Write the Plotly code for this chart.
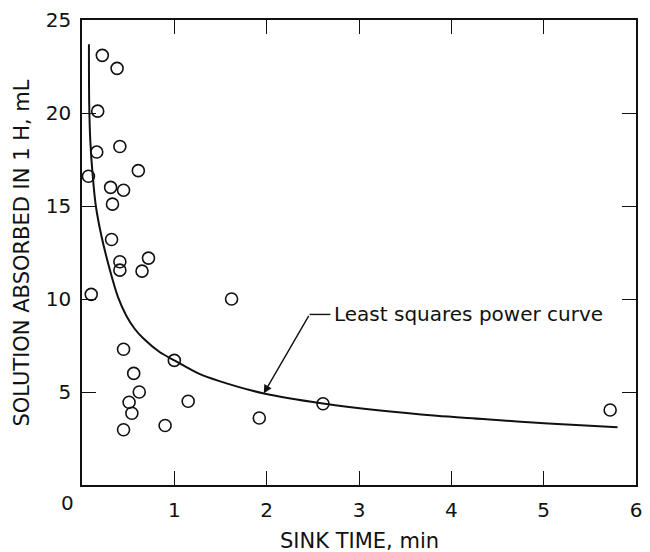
import plotly.graph_objects as go

# Observed data points (sink time, min ; solution absorbed in 1 h, mL)
sink_time = [0.22, 0.38, 0.17, 0.41, 0.16, 0.61, 0.07, 0.31, 0.45, 0.33,
             0.32, 0.41, 0.72, 0.41, 0.65, 0.10, 1.62, 0.45, 1.00, 0.56,
             0.62, 0.51, 0.54, 1.15, 0.45, 0.90, 1.92, 2.61, 5.72]
absorbed = [23.1, 22.4, 20.1, 18.2, 17.9, 16.9, 16.6, 16.0, 15.85, 15.1,
            13.2, 12.0, 12.2, 11.55, 11.5, 10.25, 10.0, 7.3, 6.7, 6.0,
            5.0, 4.45, 3.86, 4.5, 2.97, 3.2, 3.6, 4.37, 4.03]

# Least squares power curve
curve_x = [0.075, 0.078, 0.09, 0.12, 0.15, 0.21, 0.30, 0.39, 0.48, 0.57,
           0.66, 0.84, 1.0, 1.26, 1.48, 1.97, 2.61, 3.23, 3.84, 4.34, 5.05, 5.80]
curve_y = [23.7, 20.5, 18.5, 16.4, 15.0, 13.4, 11.6, 10.1, 9.1, 8.4,
           7.9, 7.15, 6.7, 6.0, 5.6, 4.92, 4.38, 4.0, 3.72, 3.55, 3.3, 3.1]

x_ticks = [1, 2, 3, 4, 5, 6]
y_ticks = [5, 10, 15, 20, 25]

FONT = "DejaVu Sans"
INK = "#111111"

fig = go.Figure()
fig.add_trace(go.Scatter(x=curve_x, y=curve_y, mode="lines",
                         line=dict(color=INK, width=2, shape="spline", smoothing=0.8),
                         hoverinfo="skip", showlegend=False))
fig.add_trace(go.Scatter(x=sink_time, y=absorbed, mode="markers",
                         marker=dict(symbol="circle-open", size=12,
                                     color=INK, line=dict(width=1.6, color=INK)),
                         showlegend=False))

axis_common = dict(showgrid=False, zeroline=False, showline=True, linecolor=INK,
                   linewidth=1.5, mirror="ticks", ticks="inside", ticklen=14,
                   tickwidth=1.2, tickcolor=INK,
                   tickfont=dict(family=FONT, size=20, color=INK))

fig.update_xaxes(range=[0, 6], tickvals=x_ticks, ticktext=[str(v) for v in x_ticks],
                 ticklabelstandoff=6, **axis_common)
fig.update_yaxes(range=[0, 25], tickvals=y_ticks, ticktext=[str(v) for v in y_ticks],
                 ticklabelstandoff=5, **axis_common)

# Arrow annotation to the curve
fig.add_annotation(x=1.968, y=4.92, ax=2.465, ay=9.17, xref="x", yref="y",
                   axref="x", ayref="y", text="", showarrow=True,
                   arrowhead=2, arrowsize=1.2, arrowwidth=1.4, arrowcolor=INK)
fig.add_shape(type="line", x0=2.465, y0=9.17, x1=2.69, y1=9.17,
              xref="x", yref="y", line=dict(color=INK, width=1.4))
fig.add_annotation(x=2.71, y=9.17, xref="x", yref="y", text="Least squares power curve",
                   showarrow=False, xanchor="left", yanchor="middle",
                   font=dict(family=FONT, size=20, color=INK))

# Axis titles and origin label
fig.add_annotation(x=0.5, y=-0.1215, xref="paper", yref="paper", text="SINK TIME, min",
                   showarrow=False, xanchor="center", yanchor="middle",
                   font=dict(family=FONT, size=21, color=INK))
fig.add_annotation(x=-0.109, y=0.499, xref="paper", yref="paper",
                   text="SOLUTION ABSORBED IN 1 H, mL", textangle=-90,
                   showarrow=False, xanchor="center", yanchor="middle",
                   font=dict(family=FONT, size=21, color=INK))
fig.add_annotation(x=-0.0268, y=-0.0384, xref="paper", yref="paper", text="0",
                   showarrow=False, xanchor="center", yanchor="middle",
                   font=dict(family=FONT, size=20, color=INK))

fig.update_layout(width=650, height=552, margin=dict(l=82, r=8, t=16, b=67),
                  paper_bgcolor="white", plot_bgcolor="white")

fig.write_html("out.html", config={"displayModeBar": False},
               post_script="document.body.style.margin='0';document.body.style.overflow='hidden';")
